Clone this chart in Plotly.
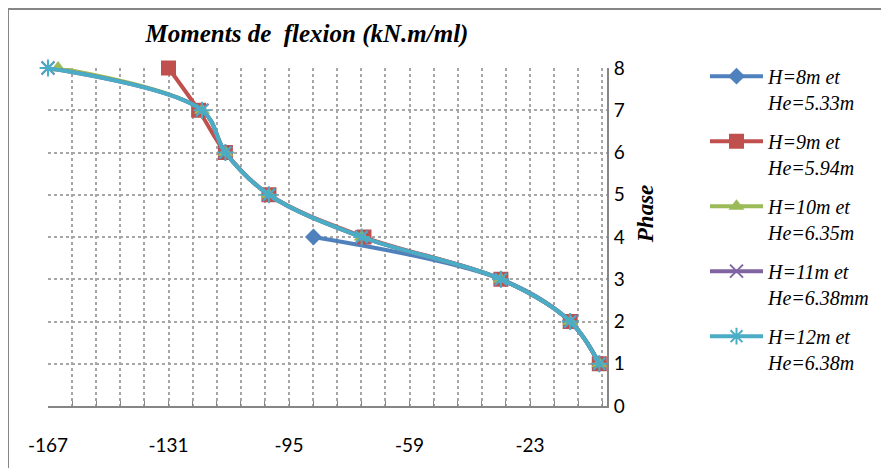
import plotly.graph_objects as go

phases = [1, 2, 3, 4, 5, 6, 7, 8]
phases_h8 = [1, 2, 3, 4]

m_h8 = [-2.3, -11, -31.7, -87.7]
m_h9 = [-2.3, -11, -31.7, -72.6, -101, -114, -122, -131]
m_h10 = [-2.3, -11, -31.7, -73.3, -101, -114, -121, -164]
m_h11 = [-2.3, -11, -31.7, -73.3, -101, -114, -121, -167]
m_h12 = [-2.3, -11, -31.7, -73.3, -101, -114, -121, -167]

names = ["H=8m et<br>He=5.33m", "H=9m et<br>He=5.94m", "H=10m et<br>He=6.35m",
         "H=11m et<br>He=6.38mm", "H=12m et<br>He=6.38m"]
colors = ["#4F81BD", "#C0504D", "#9BBB59", "#8064A2", "#4BACC6"]

x_ticks = [-167, -131, -95, -59, -23]
y_ticks = [0, 1, 2, 3, 4, 5, 6, 7, 8]

series = [
    (m_h8, phases_h8, dict(symbol="diamond", size=13, color=colors[0])),
    (m_h9, phases, dict(symbol="square", size=15, color=colors[1])),
    (m_h10, phases, dict(symbol="triangle-up", size=14, color=colors[2])),
    (m_h11, phases, dict(symbol="x-thin-open", size=13, line=dict(width=2, color=colors[3]), color=colors[3])),
    (m_h12, phases, dict(symbol="asterisk-open", size=14, line=dict(width=2, color=colors[4]), color=colors[4])),
]

fig = go.Figure()
for i, (xs, ys, mk) in enumerate(series):
    fig.add_trace(go.Scatter(
        x=xs, y=ys, mode="lines+markers", name=names[i],
        line=dict(color=colors[i], width=4, shape="spline", smoothing=1),
        marker=mk, legendgroup=str(i), cliponaxis=False,
    ))

# page body has an 8px margin: work in page pixels, then shift
OFF = 8
W, H = 889 - OFF, 468 - OFF
L, R, T, B = 48 - OFF, 607 - OFF, 67.5 - OFF, 408.5 - OFF
pw, ph = R - L, B - T

def px(xp):
    return (xp - OFF - L) / pw

def py(yp):
    return (B - (yp - OFF)) / ph

fig.update_layout(
    width=W, height=H,
    margin=dict(l=L, r=W - R, t=T, b=H - B),
    paper_bgcolor="white", plot_bgcolor="white",
    title=dict(text="<b><i>Moments de  flexion (kN.m/ml)</i></b>",
               font=dict(family="Liberation Serif", size=25, color="black"),
               x=(307 - OFF) / W, xanchor="center", y=1 - (33 - OFF) / H, yanchor="middle",
               xref="container", yref="container"),
    legend=dict(x=px(705), y=py(220), xanchor="left", yanchor="middle",
                font=dict(family="Liberation Serif", size=20, color="black", style="italic"),
                valign="top", tracegroupgap=10, itemwidth=53,
                bgcolor="rgba(0,0,0,0)"),
    showlegend=True,
    xaxis=dict(range=[-167, 0], tickvals=x_ticks, ticktext=[str(v) for v in x_ticks],
               showgrid=True, gridcolor="#A6A6A6", griddash="dot", gridwidth=1.5,
               showline=True, linecolor="#868686", linewidth=2,
               ticks="inside", ticklen=5, tickcolor="#868686",
               minor=dict(tick0=-167, dtick=7.2, showgrid=True, gridcolor="#A6A6A6",
                          griddash="dot", gridwidth=1.5, ticks="inside", ticklen=5,
                          tickcolor="#868686"),
               tickfont=dict(family="Lato", size=19, color="black"),
               ticklabelstandoff=21, zeroline=False),
    yaxis=dict(range=[0, 8], tickvals=y_ticks, side="right",
               showgrid=True, gridcolor="#A6A6A6", griddash="dot", gridwidth=1.5,
               showline=True, linecolor="#868686", linewidth=2,
               ticks="", tickfont=dict(family="Lato", size=19, color="black"),
               ticklabelstandoff=1, zeroline=False),
    annotations=[dict(text="<b><i>Phase</i></b>", textangle=-90, showarrow=False,
                      xref="paper", yref="paper", x=px(645), y=py(215),
                      xanchor="center", yanchor="middle",
                      font=dict(family="Liberation Serif", size=23, color="black"))],
    shapes=[dict(type="rect", xref="paper", yref="paper",
                 x0=px(8), x1=px(884), y0=py(476), y1=py(8),
                 line=dict(color="#868686", width=2), fillcolor="rgba(0,0,0,0)",
                 layer="below")],
)

fig.write_html("out.html")
